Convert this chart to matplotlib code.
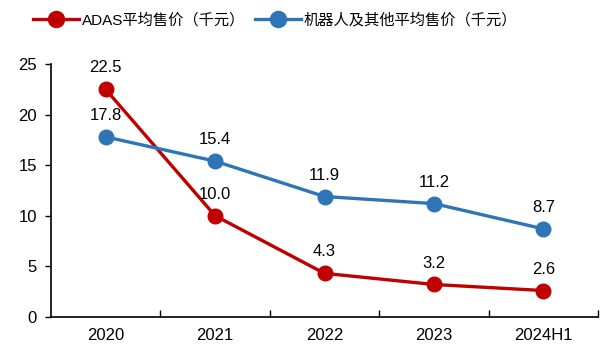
import matplotlib.pyplot as plt

plt.rcParams['font.family'] = ['Liberation Sans', 'Noto Sans CJK SC', 'DejaVu Sans']

years = ["2020", "2021", "2022", "2023", "2024H1"]
adas = [22.5, 10.0, 4.3, 3.2, 2.6]
robot = [17.8, 15.4, 11.9, 11.2, 8.7]

red = "#C00000"
blue = "#2E75B6"

fig = plt.figure(figsize=(6.06, 3.56), dpi=100)
ax = fig.add_axes([0.084, 0.110, 0.903, 0.710])

x = range(len(years))
ax.plot(x, adas, color=red, lw=2.4, marker='o', ms=10.5, label="ADAS平均售价（千元）")
ax.plot(x, robot, color=blue, lw=2.4, marker='o', ms=10.5, label="机器人及其他平均售价（千元）")

for i, v in enumerate(adas):
    ax.annotate(f"{v:.1f}", (i, v), xytext=(0, 10), textcoords="offset points",
                ha='center', va='bottom', fontsize=12)
for i, v in enumerate(robot):
    ax.annotate(f"{v:.1f}", (i, v), xytext=(0, 10), textcoords="offset points",
                ha='center', va='bottom', fontsize=12)

ax.set_xlim(-0.5, 4.5)
ax.set_ylim(0, 25)
ax.set_yticks([0, 5, 10, 15, 20, 25])
ax.set_xticks(list(x))
ax.set_xticklabels(years)
ax.set_xticks([0.5, 1.5, 2.5, 3.5, 4.5], minor=True)
ax.tick_params(axis='x', which='major', length=0, pad=8, labelsize=12)
ax.tick_params(axis='x', which='minor', direction='in', length=5, width=1)
ax.tick_params(axis='y', direction='out', length=4, width=1, labelsize=12, pad=6)

for s in ['top', 'right']:
    ax.spines[s].set_visible(False)
ax.spines['left'].set_linewidth(1.2)
ax.spines['bottom'].set_linewidth(1.2)

ax.legend(loc='center', bbox_to_anchor=(0.41, 1.175), ncol=2, frameon=False,
          fontsize=11, handlelength=3, columnspacing=0.6, handletextpad=0.2,
          markerscale=1.1)

fig.savefig("out.png", dpi=100)
